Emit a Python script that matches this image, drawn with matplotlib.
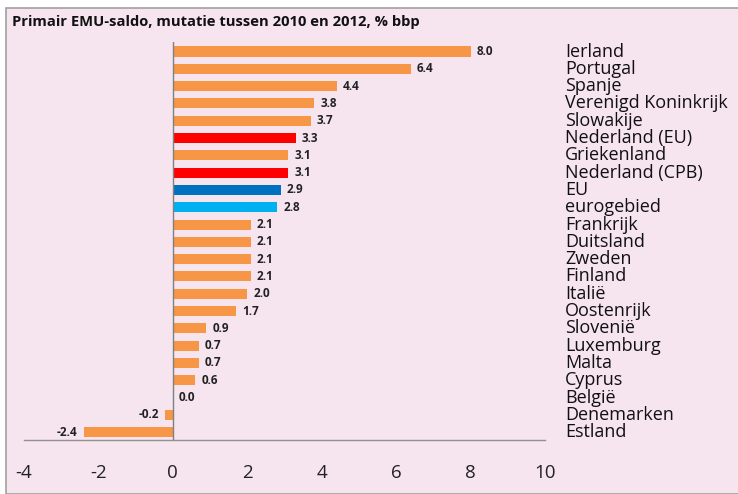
import matplotlib
matplotlib.use("Agg")
import matplotlib.pyplot as plt
from matplotlib.transforms import blended_transform_factory
from matplotlib.patches import Rectangle

countries = ["Ierland", "Portugal", "Spanje", "Verenigd Koninkrijk", "Slowakije",
             "Nederland (EU)", "Griekenland", "Nederland (CPB)", "EU", "eurogebied",
             "Frankrijk", "Duitsland", "Zweden", "Finland", "Italië", "Oostenrijk",
             "Slovenië", "Luxemburg", "Malta", "Cyprus", "België", "Denemarken", "Estland"]
values = [8.0, 6.4, 4.4, 3.8, 3.7, 3.3, 3.1, 3.1, 2.9, 2.8,
          2.1, 2.1, 2.1, 2.1, 2.0, 1.7, 0.9, 0.7, 0.7, 0.6, 0.0, -0.2, -2.4]
xticks = [-4, -2, 0, 2, 4, 6, 8, 10]

ORANGE = "#f79646"
RED = "#ff0000"
DBLUE = "#0070c0"
LBLUE = "#00b0f0"
special = {"Nederland (EU)": RED, "Nederland (CPB)": RED, "EU": DBLUE, "eurogebied": LBLUE}
colors = [special.get(c, ORANGE) for c in countries]

BG = "#f6e4ef"
W, H = 738, 494
fig = plt.figure(figsize=(W / 100, H / 100), dpi=100)
fig.patch.set_facecolor("white")
# panel background with border
fig.patches.append(Rectangle((6 / W, 0), 1, 1 - 8 / H, transform=fig.transFigure,
                             facecolor=BG, edgecolor="#a0a0a0", linewidth=1.2, zorder=-10))

left, right = 24 / W, 545 / W
top, bottom = 42 / H, 440 / H
ax = fig.add_axes([left, 1 - bottom, right - left, bottom - top])
ax.set_facecolor("none")

y = list(range(len(countries)))
ax.barh(y, values, height=0.58, color=colors, zorder=3)
ax.set_xlim(-4, 10)
ax.set_ylim(22.45, -0.55)
ax.axvline(0, color="#808080", linewidth=1.0, zorder=4)

for s in ["top", "right", "left"]:
    ax.spines[s].set_visible(False)
ax.spines["bottom"].set_color("#909090")
ax.spines["bottom"].set_linewidth(1.0)
ax.set_yticks([])
ax.set_xticks(xticks)
ax.set_xticklabels([str(t) for t in xticks], family="Open Sans", fontsize=13.5, color="#222222")
ax.tick_params(axis="x", length=0, pad=17)

pt = 6 / 100 * 72  # 6 px offset in points
for yi, v in zip(y, values):
    if v < 0:
        ax.annotate(f"{v:.1f}", (v, yi), xytext=(-pt, 0), textcoords="offset points",
                    ha="right", va="center", fontsize=8.5, fontweight="bold",
                    family="Open Sans", color="#222222")
    else:
        ax.annotate(f"{v:.1f}", (v, yi), xytext=(pt, 0), textcoords="offset points",
                    ha="left", va="center", fontsize=8.5, fontweight="bold",
                    family="Open Sans", color="#222222")

tr = blended_transform_factory(fig.transFigure, ax.transData)
for yi, c in zip(y, countries):
    ax.text(565 / W, yi, c, transform=tr, ha="left", va="center", fontsize=13,
            family="Open Sans", color="#111111", clip_on=False)

fig.text(12 / W, 1 - 22 / H, "Primair EMU-saldo, mutatie tussen 2010 en 2012, % bbp",
         ha="left", va="center", fontsize=10.6, fontweight="bold", family="Open Sans",
         color="#111111")

fig.savefig("out.png", dpi=100, facecolor=fig.get_facecolor())
